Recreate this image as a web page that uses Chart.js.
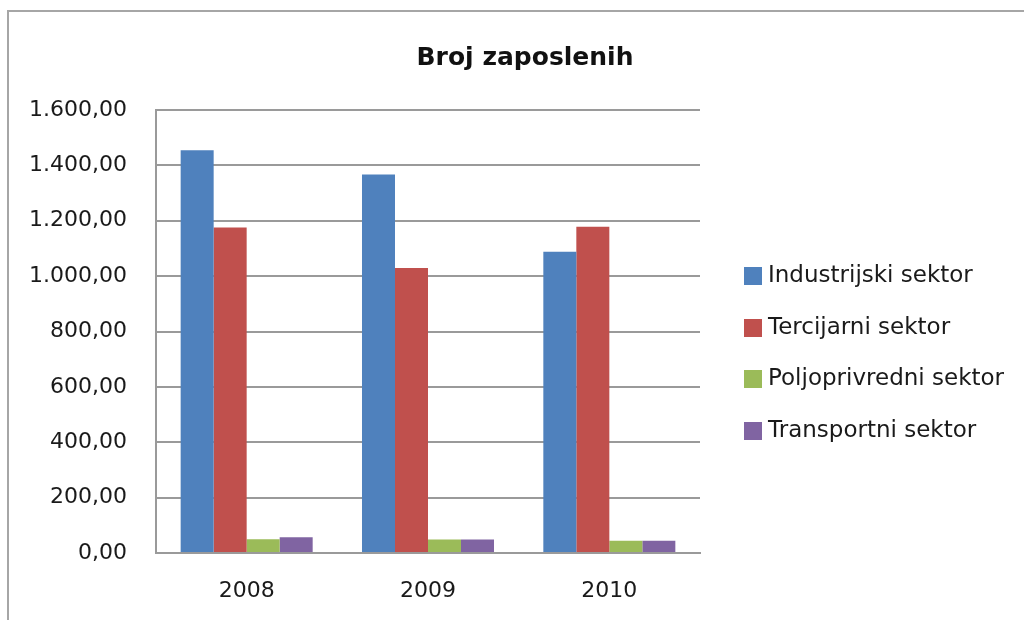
<!DOCTYPE html>
<html>
<head>
<meta charset="utf-8">
<script src="https://cdn.jsdelivr.net/npm/chart.js@4/dist/chart.umd.min.js"></script>
<style>
  html, body { margin: 0; padding: 0; background: #fff; overflow: hidden; }
  #wrap { position: relative; width: 1024px; height: 620px; }
  #frame { position: absolute; left: 7px; top: 10px; width: 1100px; height: 700px; border: 2px solid #a6a6a6; box-sizing: border-box; }
  canvas { position: absolute; left: 0; top: 0; }
</style>
</head>
<body>
<div id="wrap">
  <div id="frame"></div>
  <canvas id="c" width="1024" height="620"></canvas>
</div>
<script>
const title = "Broj zaposlenih";
const categories = ["2008", "2009", "2010"];
const seriesNames = ["Industrijski sektor", "Tercijarni sektor", "Poljoprivredni sektor", "Transportni sektor"];
const industrijski = [1455, 1367, 1088];
const tercijarni = [1176, 1029, 1178];
const poljoprivredni = [50, 49, 44];
const transportni = [57, 49, 44];
const colors = ["#4F81BD", "#C0504D", "#9BBB59", "#8064A2"];
const yTicks = [0, 200, 400, 600, 800, 1000, 1200, 1400, 1600];

function fmt(v) {
  const intPart = Math.round(v).toString().replace(/\B(?=(\d{3})+(?!\d))/g, ".");
  return intPart + ",00";
}

const overlayPlugin = {
  id: "overlay",
  afterDraw(chart) {
    const ctx = chart.ctx;
    ctx.save();
    // title
    ctx.font = "bold 25px 'DejaVu Sans'";
    ctx.fillStyle = "#111";
    ctx.textAlign = "center";
    ctx.textBaseline = "middle";
    ctx.fillText(title, 525, 58);
    // legend
    ctx.font = "23px 'DejaVu Sans'";
    ctx.textAlign = "left";
    const ys = [276, 328, 379, 431];
    chart.data.datasets.forEach((ds, i) => {
      ctx.fillStyle = ds.backgroundColor;
      ctx.fillRect(744, ys[i] - 9, 18, 18);
      ctx.fillStyle = "#1a1a1a";
      ctx.fillText(ds.label, 768, ys[i]);
    });
    ctx.restore();
  }
};

const seriesData = [industrijski, tercijarni, poljoprivredni, transportni];

new Chart(document.getElementById("c"), {
  type: "bar",
  data: {
    labels: categories,
    datasets: seriesNames.map((n, i) => ({
      label: n,
      data: seriesData[i],
      backgroundColor: colors[i],
      borderWidth: 0,
      categoryPercentage: 0.728,
      barPercentage: 1.0
    }))
  },
  options: {
    responsive: false,
    animation: false,
    devicePixelRatio: 1,
    layout: { padding: { left: 0, right: 324, top: 110, bottom: 0 } },
    plugins: {
      legend: { display: false },
      tooltip: { enabled: false },
      title: { display: false }
    },
    scales: {
      x: {
        grid: { display: false, drawTicks: false },
        border: { display: true, color: "#9a9a9a", width: 2 },
        ticks: { color: "#1a1a1a", font: { family: "'DejaVu Sans'", size: 22 }, padding: 25 },
        afterFit(scale) { scale.height = 67; }
      },
      y: {
        min: 0,
        max: 1600,
        afterBuildTicks(scale) { scale.ticks = yTicks.map(v => ({ value: v })); },
        grid: { color: "#9a9a9a", lineWidth: 2, drawTicks: false },
        border: { display: true, color: "#9a9a9a", width: 2 },
        ticks: {
          color: "#1a1a1a",
          font: { family: "'DejaVu Sans'", size: 22 },
          padding: 29,
          callback: (v) => fmt(v)
        },
        afterFit(scale) { scale.width = 156; }
      }
    }
  },
  plugins: [overlayPlugin]
});
</script>
</body>
</html>
